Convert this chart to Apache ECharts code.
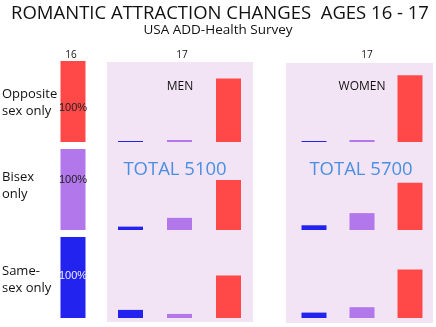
<!DOCTYPE html>
<html><head><meta charset="utf-8">
<script src="https://cdn.jsdelivr.net/npm/echarts@6/dist/echarts.min.js"></script>
<style>html,body{margin:0;padding:0;background:#fff}#c{width:436px;height:327px}</style>
</head><body><div id="c"></div>
<script>
// Categories (status at 17), ordered as drawn left-to-right
var categories17 = ['Same-sex only', 'Bisex only', 'Opposite sex only'];
// Rows: attraction at age 16
var rows16 = ['Opposite\nsex only', 'Bisex\nonly', 'Same-\nsex only'];
var base16 = [100, 100, 100];
// Percent at 17 [same-sex, bisex, opposite] for each row at 16
var menOpposite = [1.5, 3, 94];
var menBisex = [5, 18, 74];
var menSame = [12, 6, 63];
var womenOpposite = [1.5, 3, 99];
var womenBisex = [7, 25, 70];
var womenSame = [8, 16, 72];
var totals = ['TOTAL 5100', 'TOTAL 5700'];

var RED = '#ff4848', PURPLE = '#b177eb', BLUE = '#2323f0';
var rowColors16 = [RED, PURPLE, BLUE];
var barColors = [BLUE, PURPLE, RED];

var rowTops = [61, 149, 237];
var rowH = 81;
var FONT = 'Open Sans';

var grids = [], xAxes = [], yAxes = [], series = [];
function addGrid(left, width, top, max) {
  var gi = grids.length;
  grids.push({ left: left, width: width, top: top, height: rowH, containLabel: false });
  xAxes.push({ type: 'category', gridIndex: gi, data: categories17, show: false });
  yAxes.push({ type: 'value', gridIndex: gi, min: 0, max: max, show: false });
  return gi;
}
// Age 16 column
var labelOffsets = [[0, 6], [0, -10], [0, -2]];
var labelColors = ['#222', '#222', '#eef'];
for (var r = 0; r < 3; r++) {
  var gi = addGrid(60, 26, rowTops[r], 100);
  xAxes[gi].data = ['16'];
  series.push({
    type: 'bar', xAxisIndex: gi, yAxisIndex: gi, barWidth: 25,
    data: [base16[r]],
    itemStyle: { color: rowColors16[r] },
    label: { show: true, position: 'inside', offset: labelOffsets[r], formatter: '{c}%',
      color: labelColors[r], fontSize: 11, fontFamily: 'Liberation Sans' },
    silent: true
  });
}
var menRows = [menOpposite, menBisex, menSame];
var womenRows = [womenOpposite, womenBisex, womenSame];
function addPanel(left, width, rowsData) {
  for (var r = 0; r < 3; r++) {
    var gi = addGrid(left, width, rowTops[r], 120);
    series.push({
      type: 'bar', xAxisIndex: gi, yAxisIndex: gi, barWidth: 25,
      data: rowsData[r].map(function (v, i) {
        return { value: v, itemStyle: { color: barColors[i] } };
      }),
      silent: true
    });
  }
}
addPanel(106, 147, menRows);
addPanel(290, 144, womenRows);

var txt = function (x, y, s, size, color, align) {
  return { type: 'text', x: x, y: y, z: 10, style: { text: s, fontSize: size, fontFamily: FONT,
    fill: color || '#111', align: align || 'center', verticalAlign: 'middle' } };
};

var graphics = [
  { type: 'rect', shape: { x: 107, y: 62, width: 146, height: 260 }, style: { fill: '#f2e4f5' }, z: -10 },
  { type: 'rect', shape: { x: 286, y: 63, width: 147, height: 260 }, style: { fill: '#f2e4f5' }, z: -10 },
  txt(220, 14, 'ROMANTIC ATTRACTION CHANGES  AGES 16 - 17', 18.5, '#111'),
  txt(218, 30, 'USA ADD-Health Survey', 13.5, '#111'),
  txt(71, 55, '16', 10),
  txt(182, 55, '17', 10),
  txt(367, 55, '17', 10),
  txt(180, 87, 'MEN', 12),
  txt(362, 87, 'WOMEN', 12),
  txt(175, 170, totals[0], 18.5, '#4a90e2'),
  txt(361, 170, totals[1], 18.5, '#4a90e2')
];
var rowLabelY = [103, 186, 280];
for (var r = 0; r < 3; r++) {
  graphics.push({ type: 'text', x: 2, y: rowLabelY[r], z: 10, style: { text: rows16[r], fontSize: 13,
    fontFamily: FONT, fill: '#111', align: 'left', verticalAlign: 'middle', lineHeight: 17 } });
}

var chart = echarts.init(document.getElementById('c'), null, { renderer: 'canvas' });
chart.setOption({
  animation: false,
  grid: grids, xAxis: xAxes, yAxis: yAxes, series: series,
  graphic: { elements: graphics }
});
</script></body></html>
